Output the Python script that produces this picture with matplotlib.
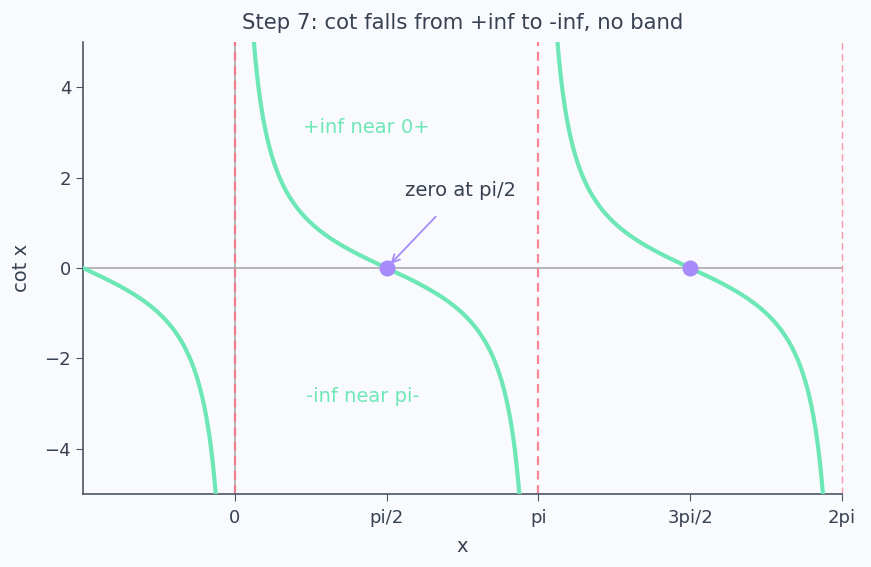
import numpy as np
import matplotlib.pyplot as plt

# the plotted function is cot x on three branches
branches = [(-np.pi / 2, 0.0), (0.0, np.pi), (np.pi, 2 * np.pi)]
asymptotes = [0.0, np.pi]
edge_asymptote = 2 * np.pi
zeros_x = [np.pi / 2, 3 * np.pi / 2]
tick_pos = [0, np.pi / 2, np.pi, 3 * np.pi / 2, 2 * np.pi]
tick_labels = ["0", "pi/2", "pi", "3pi/2", "2pi"]

bg = "#f9fafd"
green = "#6ee7b7"
violet = "#a78bfa"
rose = "#fb7185"
text_c = "#374151"
spine_c = "#4b5563"

fig = plt.figure(figsize=(8.71, 5.67), dpi=100, facecolor=bg)
ax = fig.add_axes([0.0953, 0.1287, 0.8714, 0.7973], facecolor=bg)

for a, b in branches:
    x = np.linspace(a + 1e-4, b - 1e-4, 1500)
    y = np.cos(x) / np.sin(x)
    ax.plot(x, y, color=green, lw=3, zorder=3)

ax.axhline(0, color="#a3a3a3", lw=1.1, zorder=1)
ax.axvline(0, color="#a3a3a3", lw=1.1, zorder=1)
for xa in asymptotes:
    ax.axvline(xa, color=rose, lw=1.6, ls=(0, (4, 2.5)), alpha=0.85, zorder=2)
ax.axvline(edge_asymptote, color=rose, lw=1.0, ls=(0, (5, 3)), alpha=0.7,
           zorder=2, clip_on=False)

ax.scatter(zeros_x, [0, 0], s=110, color=violet, zorder=4)

ax.text(1.364, 3.1, "+inf near 0+", color=green, fontsize=14, ha="center", va="center")
ax.text(1.32, -2.85, "-inf near pi-", color=green, fontsize=14, ha="center", va="center")
ax.annotate("zero at pi/2", xy=(np.pi / 2, 0), xytext=(2.34, 1.72),
            color=text_c, fontsize=14, ha="center", va="center",
            arrowprops=dict(arrowstyle="->", color=violet, lw=1.3,
                            shrinkA=14, shrinkB=4))

ax.set_xlim(-np.pi / 2, 2 * np.pi)
ax.set_ylim(-5, 5)
ax.set_xticks(tick_pos)
ax.set_xticklabels(tick_labels)
ax.set_yticks([-4, -2, 0, 2, 4])
ax.tick_params(colors=spine_c, labelcolor=text_c, labelsize=13, length=5)
ax.tick_params(axis="x", pad=6)
for s in ["top", "right"]:
    ax.spines[s].set_visible(False)
for s in ["left", "bottom"]:
    ax.spines[s].set_color(spine_c)
    ax.spines[s].set_linewidth(1.2)

ax.set_xlabel("x", color=text_c, fontsize=14, labelpad=7)
ax.set_ylabel("cot x", color=text_c, fontsize=14, labelpad=10)
ax.set_title("Step 7: cot falls from +inf to -inf, no band", color=text_c, fontsize=15.3, pad=9)

fig.savefig("out.png", dpi=100, facecolor=bg)
